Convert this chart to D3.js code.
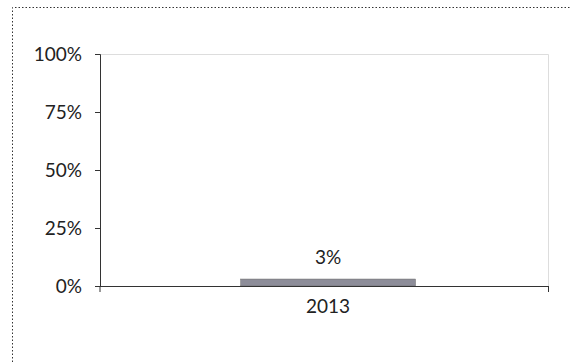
<!DOCTYPE html>
<html><head><meta charset="utf-8">
<script src="https://cdn.jsdelivr.net/npm/d3@7"></script>
<style>body{margin:0;background:#fff;}svg{display:block;font-family:Lato,"Open Sans",sans-serif;}</style>
</head><body>
<script>
const categories = ["2013"];
const values = [0.03];
const yTicks = [0, 0.25, 0.5, 0.75, 1];

const W = 570, H = 362;
const m = {left: 100, right: 22, top: 54, bottom: 76};
const FS = 19;
const svg = d3.select("body").append("svg").attr("width", W).attr("height", H);

// dotted outer frame
svg.append("path").attr("d", `M12.5,${H} L12.5,7.5 L${W},7.5`)
  .attr("fill","none").attr("stroke","#333").attr("stroke-width",1).attr("stroke-dasharray","1.5,2");

const x = d3.scaleBand().domain(categories).range([m.left, W - m.right]).paddingInner(0.61).paddingOuter(0.305).align(0.515);
const y = d3.scaleLinear().domain([0, 1]).range([H - m.bottom, m.top]);

// light plot border top & right
svg.append("path").attr("d", `M${m.left},${m.top+0.5} L${W-m.right+0.5},${m.top+0.5} L${W-m.right+0.5},${H-m.bottom}`)
  .attr("fill","none").attr("stroke","#ddd");

// bars
svg.selectAll("rect.bar").data(values).enter().append("rect")
  .attr("x", (d,i)=>x(categories[i])).attr("width", x.bandwidth())
  .attr("y", d=>y(d)).attr("height", d=>y(0)-y(d))
  .attr("fill","#8d8d99").attr("stroke","#666").attr("stroke-width",0.5);

// labels
svg.selectAll("text.lbl").data(values).enter().append("text")
  .attr("x", (d,i)=>x(categories[i]) + x.bandwidth()/2).attr("y", d=>y(d) - 15)
  .attr("text-anchor","middle").attr("font-size",FS).attr("fill","#222")
  .text(d=>d3.format(".0%")(d));

// y axis
const ya = svg.append("g").attr("transform",`translate(${m.left},0)`)
  .call(d3.axisLeft(y).tickValues(yTicks).tickFormat(d3.format(".0%")).tickSize(5).tickPadding(13));
ya.select(".domain").attr("stroke","#333");
ya.selectAll("line").attr("stroke","#333");
ya.selectAll("text").attr("font-size",FS).attr("fill","#222").attr("font-family","Lato, sans-serif");

// x axis
const xa = svg.append("g").attr("transform",`translate(0,${H-m.bottom})`)
  .call(d3.axisBottom(x).tickSize(0).tickPadding(14));
xa.select(".domain").attr("stroke","#333").attr("d",`M${m.left},0.5H${W-m.right+0.5}`);
xa.selectAll("text").attr("font-size",FS).attr("fill","#222").attr("font-family","Lato, sans-serif");
xa.append("line").attr("x1",W-m.right+0.5).attr("x2",W-m.right+0.5).attr("y1",0).attr("y2",6).attr("stroke","#333");
xa.append("line").attr("x1",m.left).attr("x2",m.left).attr("y1",0).attr("y2",6).attr("stroke","#333");
</script>
</body></html>
